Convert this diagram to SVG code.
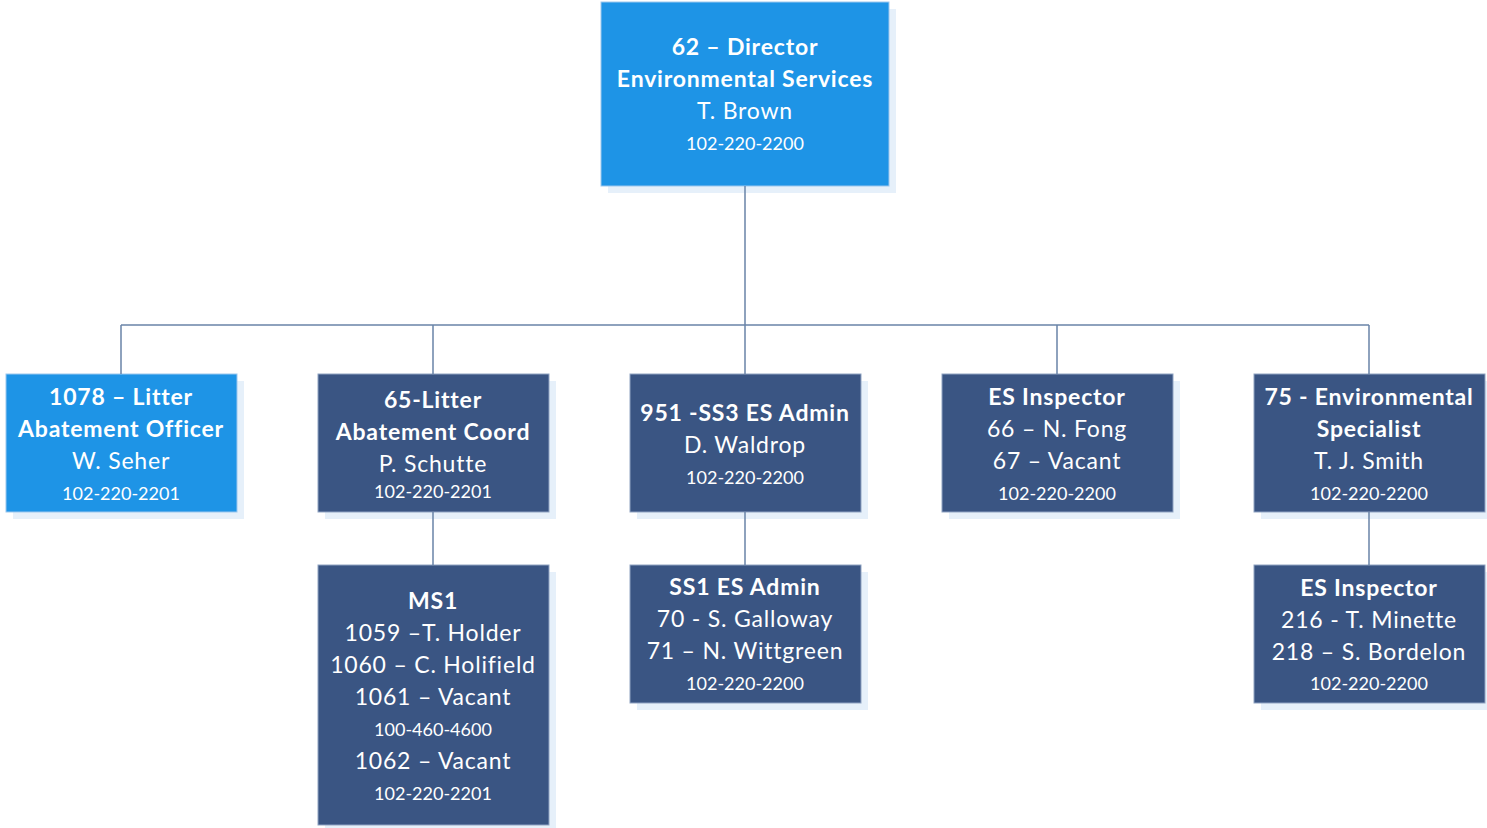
<svg xmlns="http://www.w3.org/2000/svg" width="1487" height="828" viewBox="0 0 1487 828">
  <style>
    .shadow { fill: #e6f0fa; }
    .light { fill: #1e94e6; stroke: #9cc7ee; stroke-width: 1; }
    .dark { fill: #3a5583; stroke: #8fa3c2; stroke-width: 1; }
    .wire { stroke: #6a84a8; stroke-width: 1.5; fill: none; }
    text { font-family: Lato, "Liberation Sans", sans-serif; fill: #ffffff; text-anchor: middle; dominant-baseline: central; }
    .b { font-weight: bold; font-size: 23px; letter-spacing: 0.8px; }
    .r { font-size: 23px; letter-spacing: 0.8px; }
    .p { font-size: 18px; }
  </style>
  <rect width="1487" height="828" fill="#ffffff"/>

  <g id="director">
    <rect class="shadow" x="608" y="9" width="288" height="184"/>
    <rect class="light" x="601" y="2" width="288" height="184"/>
    <text class="b" x="745" y="46">62 – Director</text>
    <text class="b" x="745" y="78">Environmental Services</text>
    <text class="r" x="745" y="110">T. Brown</text>
    <text class="p" x="745" y="143">102-220-2200</text>
  </g>

  <g id="litter-officer">
    <rect class="shadow" x="13" y="381" width="231" height="138"/>
    <rect class="light" x="6" y="374" width="231" height="138"/>
    <text class="b" x="121" y="396">1078 – Litter</text>
    <text class="b" x="121" y="428">Abatement Officer</text>
    <text class="r" x="121" y="460">W. Seher</text>
    <text class="p" x="121" y="493">102-220-2201</text>
  </g>

  <g id="litter-coord">
    <rect class="shadow" x="325" y="381" width="231" height="138"/>
    <rect class="dark" x="318" y="374" width="231" height="138"/>
    <text class="b" x="433" y="399">65-Litter</text>
    <text class="b" x="433" y="431">Abatement Coord</text>
    <text class="r" x="433" y="463">P. Schutte</text>
    <text class="p" x="433" y="491">102-220-2201</text>
  </g>

  <g id="es-admin">
    <rect class="shadow" x="637" y="381" width="231" height="138"/>
    <rect class="dark" x="630" y="374" width="231" height="138"/>
    <text class="b" x="745" y="412">951 -SS3 ES Admin</text>
    <text class="r" x="745" y="444">D. Waldrop</text>
    <text class="p" x="745" y="477">102-220-2200</text>
  </g>

  <g id="es-inspector">
    <rect class="shadow" x="949" y="381" width="231" height="138"/>
    <rect class="dark" x="942" y="374" width="231" height="138"/>
    <text class="b" x="1057" y="396">ES Inspector</text>
    <text class="r" x="1057" y="428">66 – N. Fong</text>
    <text class="r" x="1057" y="460">67 – Vacant</text>
    <text class="p" x="1057" y="493">102-220-2200</text>
  </g>

  <g id="env-specialist">
    <rect class="shadow" x="1261" y="381" width="231" height="138"/>
    <rect class="dark" x="1254" y="374" width="231" height="138"/>
    <text class="b" x="1369" y="396">75 - Environmental</text>
    <text class="b" x="1369" y="428">Specialist</text>
    <text class="r" x="1369" y="460">T. J. Smith</text>
    <text class="p" x="1369" y="493">102-220-2200</text>
  </g>

  <g id="ms1">
    <rect class="shadow" x="325" y="572" width="231" height="260"/>
    <rect class="dark" x="318" y="565" width="231" height="260"/>
    <text class="b" x="433" y="600">MS1</text>
    <text class="r" x="433" y="632">1059 –T. Holder</text>
    <text class="r" x="433" y="664">1060 – C. Holifield</text>
    <text class="r" x="433" y="696">1061 – Vacant</text>
    <text class="p" x="433" y="729">100-460-4600</text>
    <text class="r" x="433" y="760">1062 – Vacant</text>
    <text class="p" x="433" y="793">102-220-2201</text>
  </g>

  <g id="ss1-admin">
    <rect class="shadow" x="637" y="572" width="231" height="138"/>
    <rect class="dark" x="630" y="565" width="231" height="138"/>
    <text class="b" x="745" y="586">SS1 ES Admin</text>
    <text class="r" x="745" y="618">70 - S. Galloway</text>
    <text class="r" x="745" y="650">71 – N. Wittgreen</text>
    <text class="p" x="745" y="683">102-220-2200</text>
  </g>

  <g id="es-inspector-2">
    <rect class="shadow" x="1261" y="572" width="231" height="138"/>
    <rect class="dark" x="1254" y="565" width="231" height="138"/>
    <text class="b" x="1369" y="587">ES Inspector</text>
    <text class="r" x="1369" y="619">216 - T. Minette</text>
    <text class="r" x="1369" y="651">218 – S. Bordelon</text>
    <text class="p" x="1369" y="683">102-220-2200</text>
  </g>

  <!-- connectors sit above the drop shadows -->
  <g id="connectors">
    <path class="wire" d="M745,186 V325 M121,325 H1369 M121,325 V374 M433,325 V374 M745,325 V374 M1057,325 V374 M1369,325 V374"/>
    <path class="wire" d="M433,512 V565 M745,512 V565 M1369,512 V565"/>
  </g>
</svg>
